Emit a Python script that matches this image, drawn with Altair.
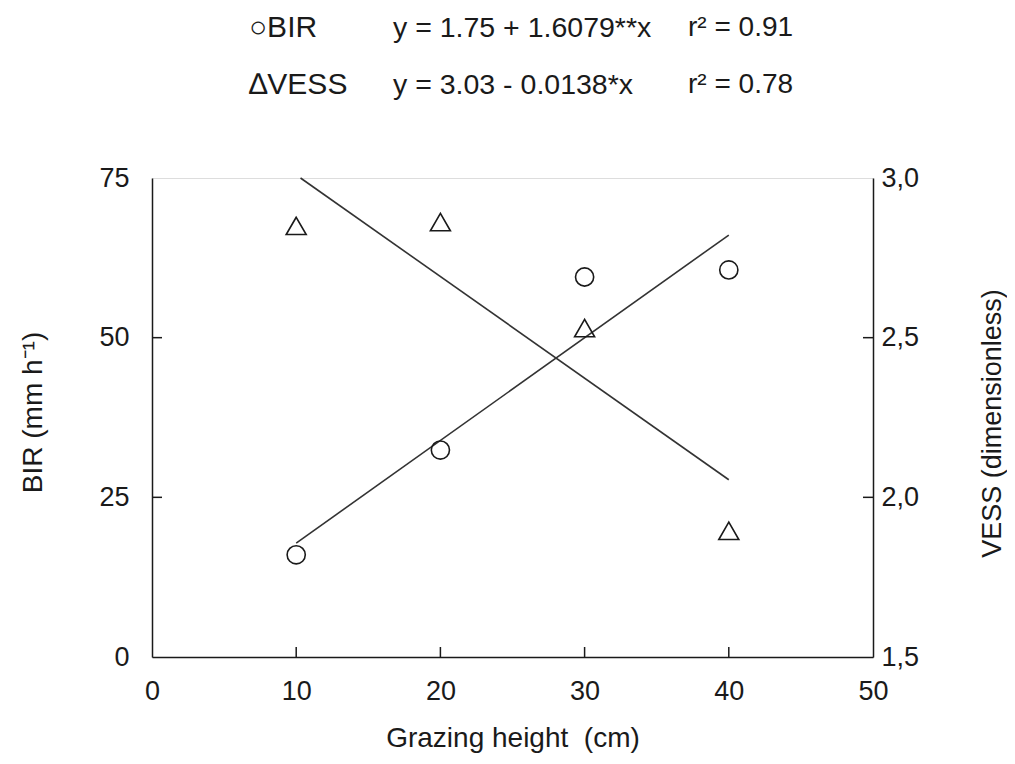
import altair as alt
import pandas as pd

# ---- data ----
grazing_height = [10, 20, 30, 40]
bir_values = [16.0, 32.4, 59.5, 60.6]
vess_values = [2.850, 2.862, 2.530, 1.895]

bir_fit_x = [10, 40]
bir_fit_y = [17.83, 66.07]
vess_fit_x = [10.3, 40]
vess_fit_y = [3.0, 2.055]

x_ticks = [0, 10, 20, 30, 40, 50]
bir_ticks = [0, 25, 50, 75]
vess_ticks = [1.5, 2.0, 2.5, 3.0]

legend_names = ["○BIR", "∆VESS"]
legend_eqs = ["y = 1.75 + 1.6079**x", "y = 3.03 - 0.0138*x"]
legend_r2 = ["r² = 0.91", "r² = 0.78"]

# ---- tables ----
pts = pd.DataFrame({"h": grazing_height, "bir": bir_values, "vess": vess_values})
bir_fit = pd.DataFrame({"h": bir_fit_x, "bir": bir_fit_y})
vess_fit = pd.DataFrame({"h": vess_fit_x, "vess": vess_fit_y})
xt = pd.DataFrame({"h": x_ticks[1:-1]})
bt = pd.DataFrame({"bir": bir_ticks[1:-1]})
vt = pd.DataFrame({"vess": vess_ticks[1:-1]})

W, H = 721, 479
FONT = "Liberation Sans"
INK = "#1a1a1a"
TICK_FS = 27
TITLE_FS = 28

xscale = alt.Scale(domain=[0, 50], nice=False, zero=False)
bscale = alt.Scale(domain=[0, 75], nice=False, zero=False)
vscale = alt.Scale(domain=[1.5, 3.0], nice=False, zero=False)

x_axis = alt.Axis(
    values=x_ticks, tickSize=0, labelPadding=21, labelFontSize=TICK_FS,
    labelFont=FONT, labelColor=INK, domainColor=INK, domainWidth=1.5,
    title="Grazing height\u00a0\u00a0(cm)", titleFont=FONT, titleFontSize=TITLE_FS,
    titleFontWeight="normal", titleColor=INK, titlePadding=20, grid=False,
    labelFlush=False,
)
b_axis = alt.Axis(
    orient="left", values=bir_ticks, tickSize=0, labelPadding=23,
    labelFontSize=TICK_FS, labelFont=FONT, labelColor=INK, domainColor=INK,
    domainWidth=1.5, title="BIR (mm h⁻¹)", titleFont=FONT, titleFontSize=TITLE_FS,
    titleFontWeight="normal", titleColor=INK, titleAngle=-90,
    titleX=-119, titleY=234, titleAlign="center", titleBaseline="middle",
    grid=False, labelFlush=False,
)
v_axis = alt.Axis(
    orient="right", values=vess_ticks, tickSize=0, labelPadding=8,
    labelFontSize=TICK_FS, labelFont=FONT, labelColor=INK, domainColor=INK,
    domainWidth=1.5, title="VESS (dimensionless)", titleFont=FONT,
    titleFontSize=27, titleFontWeight="normal", titleColor=INK,
    titleAngle=-90, titleX=119, titleY=245, titleAlign="center",
    titleBaseline="middle", grid=False, labelFlush=False,
    labelExpr="replace(format(datum.value, '.1f'), '.', ',')",
)

# ---- BIR (left) group ----
bir_pts = alt.Chart(pts).mark_point(
    shape="circle", size=330, filled=False, color=INK, strokeWidth=1.6, opacity=1
).encode(x=alt.X("h:Q", scale=xscale, axis=x_axis),
         y=alt.Y("bir:Q", scale=bscale, axis=b_axis))
bir_line = alt.Chart(bir_fit).mark_line(color="#333333", strokeWidth=1.6).encode(
    x=alt.X("h:Q", scale=xscale), y=alt.Y("bir:Q", scale=bscale))
left_ticks = alt.Chart(bt).mark_rule(color=INK, strokeWidth=1.5).encode(
    y=alt.Y("bir:Q", scale=bscale), x=alt.value(0), x2=alt.value(10))
bottom_ticks = alt.Chart(xt).mark_rule(color=INK, strokeWidth=1.5).encode(
    x=alt.X("h:Q", scale=xscale), y=alt.value(H), y2=alt.value(H - 10))

left = alt.layer(bir_line, bir_pts, left_ticks, bottom_ticks)

# ---- VESS (right) group ----
vess_pts = alt.Chart(pts).mark_point(
    shape="triangle-up", size=400, filled=False, color=INK, strokeWidth=1.6, opacity=1
).encode(x=alt.X("h:Q", scale=xscale),
         y=alt.Y("vess:Q", scale=vscale, axis=v_axis))
vess_line = alt.Chart(vess_fit).mark_line(color="#333333", strokeWidth=1.6).encode(
    x=alt.X("h:Q", scale=xscale), y=alt.Y("vess:Q", scale=vscale))
right_ticks = alt.Chart(vt).mark_rule(color=INK, strokeWidth=1.5).encode(
    y=alt.Y("vess:Q", scale=vscale), x=alt.value(W - 10), x2=alt.value(W))

right = alt.layer(vess_line, vess_pts, right_ticks)

# ---- legend text above the plot ----
one = alt.Data(values=[{}])
def txt(s, x, y, fs):
    return alt.Chart(one).mark_text(
        text=s, align="left", baseline="middle", font=FONT, fontSize=fs,
        color=INK,
    ).encode(x=alt.value(x), y=alt.value(y))

legend = alt.layer(
    txt(legend_names[0], 97, -150, 30), txt(legend_eqs[0], 241, -150, 28.5),
    txt(legend_r2[0], 536, -150, 28),
    txt(legend_names[1], 97, -93, 30), txt(legend_eqs[1], 241, -93, 28.5),
    txt(legend_r2[1], 536, -93, 28),
)

chart = alt.layer(left, right, legend).resolve_scale(y="independent").properties(
    width=W, height=H,
    padding={"left": 144, "top": 170, "right": 134, "bottom": 99},
    autosize=alt.AutoSizeParams(type="none"),
).configure_view(stroke=None).configure(background="white")

chart.save("out.html", embed_options={"renderer": "svg", "actions": False})
